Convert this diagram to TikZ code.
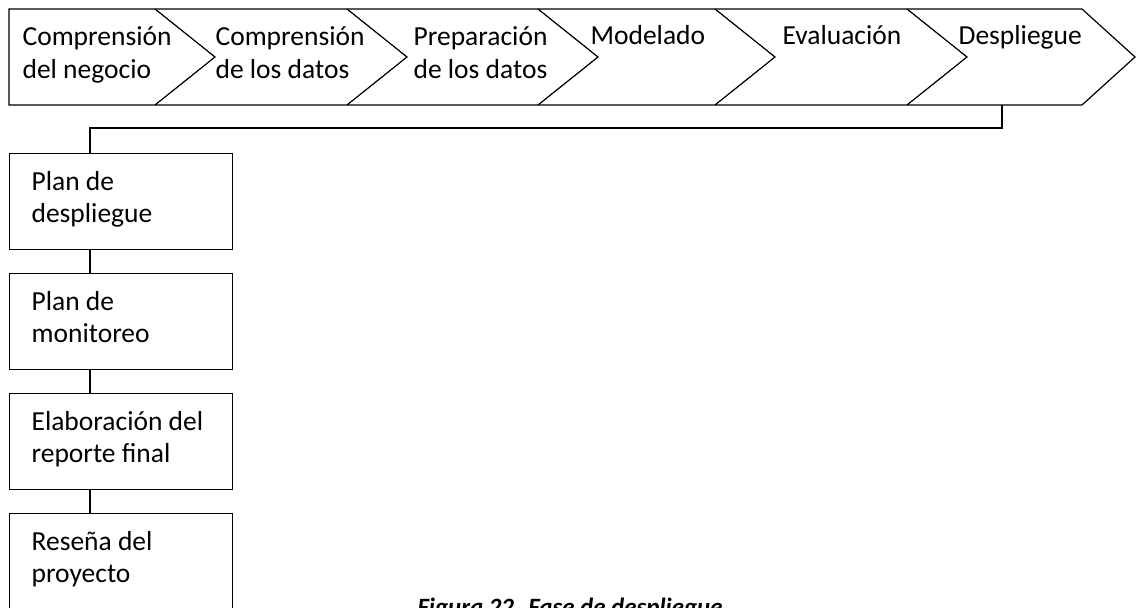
\documentclass[tikz,border=0pt]{standalone}
\usepackage{fontspec}
\usepackage{graphicx}
\setmainfont{Carlito}
\usetikzlibrary{calc}
% two stacked lines whose baseline is the first line
\newcommand\stk[2]{\begin{tabular}[t]{@{}l@{}}#1\\#2\end{tabular}}
\begin{document}
\begin{tikzpicture}[x=1pt,y=-1pt,line width=1.2pt,line join=miter,
  stagetext/.style={anchor=base west,inner sep=0pt,font=\fontsize{27.5}{33}\selectfont},
  taskbox/.style={draw,anchor=north west,minimum width=223pt,minimum height=96pt,inner sep=0pt},
  tasktext/.style={anchor=base west,inner sep=0pt,font=\fontsize{27.5}{32}\selectfont},
  captiontext/.style={anchor=north,inner sep=0pt}]
\useasboundingbox (0,0) rectangle (1136,608);
\clip (0,0) rectangle (1136,608);

% process chevrons
\draw (9,9) -- (1082,9) -- (1135,57) -- (1082,105) -- (9,105) -- cycle;
\foreach \x in {155,347,538,715,907}
  \draw (\x,9) -- (\x+60,57) -- (\x,105);

\node[stagetext] (c1) at (22,45)  {\stk{Comprensión}{del negocio}};
\node[stagetext] (c2) at (215,45) {\stk{Comprensión}{de los datos}};
\node[stagetext] (c3) at (413,45) {\stk{Preparación}{de los datos}};
\node[stagetext] (c4) at (590,44) {Modelado};
\node[stagetext] (c5) at (782,44) {Evaluación};
\node[stagetext] (c6) at (958,44) {Despliegue};
\coordinate (dep) at (1002,105);

% tasks of the deployment phase
\node[taskbox] (b1) at (9,153) {};
\node[taskbox] (b2) at (9,273) {};
\node[taskbox] (b3) at (9,393) {};
\node[taskbox] (b4) at (9,513) {};

\node[tasktext] (t1) at ($(b1.north west)+(22,37)$) {\stk{Plan de}{despliegue}};
\node[tasktext] (t2) at ($(b2.north west)+(22,37)$) {\stk{Plan de}{monitoreo}};
\node[tasktext] (t3) at ($(b3.north west)+(22,37)$) {\stk{Elaboración del}{reporte final}};
\node[tasktext] (t4) at ($(b4.north west)+(22,37)$) {\stk{Reseña del}{proyecto}};

% connectors
\draw (dep) -- ++(0,23) -| ($(b1.north west)+(81,0)$);
\draw ($(b1.south west)+(81,0)$) -- ($(b2.north west)+(81,0)$);
\draw ($(b2.south west)+(81,0)$) -- ($(b3.north west)+(81,0)$);
\draw ($(b3.south west)+(81,0)$) -- ($(b4.north west)+(81,0)$);

% figure caption
\node[captiontext] (cap) at (570,597)
  {\resizebox{305pt}{!}{\fontsize{24}{28}\selectfont\bfseries\itshape Figura 22. Fase de despliegue}};
\end{tikzpicture}
\end{document}
